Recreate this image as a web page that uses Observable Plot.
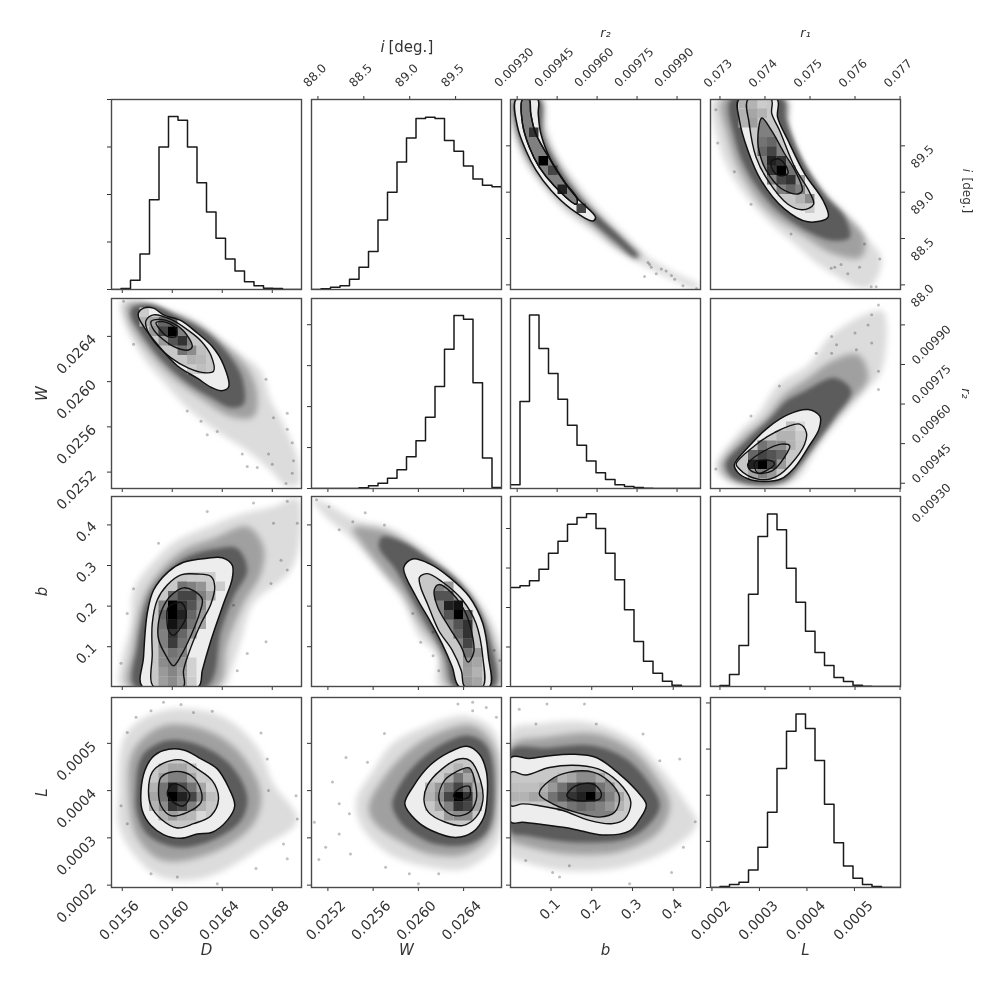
<!DOCTYPE html>
<html><head><meta charset="utf-8">
<script src="https://cdn.jsdelivr.net/npm/d3@7"></script>
<script src="https://cdn.jsdelivr.net/npm/@observablehq/plot@0.6"></script>
<style>
html,body{margin:0;padding:0;background:#fff}
#c{position:relative;width:1004px;height:991px;overflow:hidden;filter:blur(.4px)}
</style></head><body>
<svg width="0" height="0" style="position:absolute"><defs>
<filter id="b3" x="-40%" y="-40%" width="180%" height="180%"><feGaussianBlur stdDeviation="3"/></filter>
<filter id="b2" x="-40%" y="-40%" width="180%" height="180%"><feGaussianBlur stdDeviation="2.2"/></filter>
</defs></svg>
<div id="c"></div>
<script>
// Units: D, W in 1e-4; L in 1e-4; r2 in 1e-5; r1 in 1e-3; i in degrees; b raw.
const D_ticks=[156,160,164,168], D_labels=["0.0156","0.0160","0.0164","0.0168"];
const W_ticks=[252,256,260,264], W_labels=["0.0252","0.0256","0.0260","0.0264"];
const b_ticks=[.1,.2,.3,.4], b_labels=["0.1","0.2","0.3","0.4"];
const L_ticks=[2,3,4,5], L_labels=["0.0002","0.0003","0.0004","0.0005"];
const r2_ticks=[930,945,960,975,990], r2_labels=["0.00930","0.00945","0.00960","0.00975","0.00990"];
const r1_ticks=[73,74,75,76,77], r1_labels=["0.073","0.074","0.075","0.076","0.077"];
const i_ticks=[88,88.5,89,89.5], i_labels=["88.0","88.5","89.0","89.5"];
const hist_ticks=[0,1000,2000,3000,4000];

// Histogram counts, 20 bins each
const D_hist=[0,21,197,746,1887,3000,3640,3562,3000,2246,1633,1077,641,387,162,77,28,21,0,0];
const i_hist=[0,14,49,77,217,469,798,1456,2037,2674,3178,3584,3612,3584,3122,2898,2590,2317,2184,2156];
const W_hist=[0,0,0,0,0,16,65,131,253,458,776,1168,1740,2492,3399,4224,4134,2582,743,25];
const r2_hist=[90,2116,4216,3407,2794,2173,1536,1054,670,384,221,90,49,25,8,0,0,0,0,0];
const b_hist=[2507,2549,2675,2971,3376,3680,4110,4279,4372,4001,3376,2701,1941,1139,641,338,135,34,0,0];
const r1_hist=[0,25,304,1038,2330,3790,4355,3958,2988,2127,1392,861,532,228,127,34,8,0,0,0];
const L_hist=[0,22,65,116,377,870,1631,2581,3386,3763,3444,2755,1805,972,464,203,65,22,0,0];

const zip=(a,b)=>a.map((v,i)=>[v,b[i]]);

// D vs W
const DW_h1=zip([155.9,156.9,158.8,161.2,163.3,165.5,167.1,167.9,168.9,170,170.1,169.1,167.9,166,163.6,161.2,159.3,157.7,156.1],[267.1,267.1,266.5,265.7,264.2,262.4,260.9,258.3,256.2,253.3,250.9,250.8,252.1,253.9,255.6,257.7,260,262.1,265.4]);
const DW_h2=zip([156.4,157.7,159.6,162,164.1,166,166.8,166.5,164.7,162.3,159.9,158,156.5],[266.8,267,266.2,265.1,263.3,261.2,258.9,256.9,256.9,258.5,260.5,262.8,265.4]);
const DW_h3=zip([156.8,158.3,160.4,162.8,164.5,165.6,165.7,164.7,163.1,161.2,159.1,157.3,156.7],[266.5,266.8,265.8,264.3,262.4,260.3,258,257.7,258.6,259.9,262,264.6,265.8]);
const DW_c1=zip([157.3,157.7,158.5,159.3,160.7,162,163.2,164.1,164.5,163.9,163.1,162,160.4,158.8,157.7,157.3],[266.1,266.5,266.5,265.9,265.4,264.3,263.1,261.5,259.5,259.2,259.5,260.3,261.4,263.3,264.9,265.7]);
const DW_c2=zip([157.9,158.5,159.9,161.2,162.3,163.1,163.3,162.5,161.3,159.9,158.5,157.9],[265.4,265.9,265.5,264.6,263.6,262.3,260.9,260.8,261.2,262.1,263.6,264.9]);
const DW_c3=zip([158.3,158.9,160,160.9,161.6,161.3,160.3,159.3,158.5],[265.3,265.5,265.2,264.5,263.1,262.8,263,263.7,264.6]);
const DW_c4=zip([158.7,159.3,160.3,160.3,159.6,159.1],[265.2,265.3,264.7,264,264,264.5]);
const DW_cells=[[8,14,.45],[7,14,.55],[9,14,.25],[8,13,.3],[9,13,.28],[8,12,.2],[9,12,.25],[4,17,.35],[3,17,.3],[4,16,.4],[5,15,.4],[3,18,.2],[6,16,1],[6,15,.67],[7,15,.8],[5,16,.73],[5,17,.6],[6,17,.6]];
const DW_pts=zip([156.1,156.9,161.2,162.3,162.8,163.6,167.5,169.2,168.1,166,166.8,168,169.6,169.1,169.7,169.2,167.7,165.6,169.6],[267.1,263.3,257.4,256.5,255.3,255.6,260.2,257.2,256.8,252.5,252.4,252.7,251.9,251,253,255.8,253.6,253.6,254.6]);

// D vs b
const Db_h1=zip([155.9,155.9,156.7,156.9,158.5,160.4,162.8,165.2,168.1,170,170.3,169.5,166.5,165.5,164.7,164.1],[.002,.059,.156,.239,.31,.362,.395,.424,.445,.465,.396,.289,.206,.116,.041,.002]);
const Db_h2=zip([156.5,156.8,157.7,159.1,160.9,163.3,166,167.3,167.1,165.7,164.4,163.6],[.002,.09,.222,.289,.338,.367,.396,.346,.28,.206,.107,.002]);
const Db_h3=zip([157,157.2,158.1,159.3,161.2,163.6,165.2,166,164.9,163.9,162.8],[.002,.099,.222,.276,.321,.342,.342,.289,.223,.14,.002]);
const Db_c1=zip([157.6,157.7,158,158.5,159.7,160.9,162.8,164,164.8,164.8,164.1,163.1,162.4,162.1],[.002,.074,.182,.239,.285,.308,.318,.319,.301,.268,.206,.116,.041,.002]);
const Db_c2=zip([158.5,158.4,158.4,158.8,159.6,160.7,162,163.1,163.4,163.1,162.3,161.5,160.9,160.9],[.002,.083,.157,.215,.252,.277,.279,.273,.248,.206,.157,.099,.041,.002]);
const Db_c3=zip([158.9,158.9,159.2,159.9,160.9,161.7,162.4,162.2,161.6,160.7,160.1,159.5],[.119,.16,.193,.226,.245,.238,.217,.184,.135,.078,.053,.078]);
const Db_c4=zip([159.6,159.7,160.7,161,161.1,160.7,160.1,159.7],[.155,.198,.209,.198,.173,.148,.128,.14]);
const Db_cells=[[6,5,.75],[7,5,.6],[7,4,.55],[6,3,.55],[7,3,.5],[6,2,.5],[5,2,.45],[7,2,.42],[6,1,.48],[5,1,.4],[7,1,.38],[6,0,.45],[5,0,.38],[7,0,.35],[8,7,.6],[8,6,.55],[8,5,.45],[9,9,.5],[9,8,.45],[10,9,.35],[9,7,.4],[9,6,.35],[5,6,.55],[5,7,.6],[5,8,.5],[6,9,.6],[5,4,.5],[5,3,.45],[7,10,.55],[8,10,.5],[9,10,.42],[9,11,.2],[10,11,.2],[11,10,.2],[8,11,.2],[8,0,.2],[8,1,.18],[8,2,.18],[6,8,1],[6,7,1],[6,6,.93],[7,7,.87],[7,8,.8],[7,6,.8],[6,5,.8],[6,4,.77],[7,9,.73],[8,9,.73],[8,8,.67]];
const Db_pts=zip([155.9,156.4,158.9,162.8,166.5,169.2,168.1,170,168.7,169.2,167.5,166,165.2,164.9,167.9,156.9],[.059,.182,.355,.433,.454,.458,.404,.404,.313,.289,.112,.083,.041,.202,.256,.243]);

// D vs L
const DL_h1=zip([155.7,156.3,159.3,163.9,166.8,168.1,170,167.1,162.8,159.1,156.9,155.7],[3.86,5.2,5.69,5.58,4.92,4.14,3.37,2.8,2.17,2.17,2.66,3.3]);
const DL_h2=zip([156.5,156.9,159.3,162.8,165.5,167.1,166.5,163.6,159.3,157.2],[4,4.85,5.37,5.27,4.77,3.93,3.3,2.73,2.52,3.01]);
const DL_h3=zip([157.1,157.6,159.6,162.3,164.7,166,165.5,163.1,160.4,158.1,157.2],[4,4.74,5.06,4.95,4.53,3.86,3.37,2.94,2.8,3.05,3.51]);
const DL_c1=zip([157.5,157.8,158.4,159.3,160.9,162.3,163.6,164.5,165,164.4,163.2,162,160.7,159.3,158.3,157.6],[4,4.42,4.7,4.85,4.86,4.67,4.46,4.07,3.68,3.37,3.12,3.08,2.99,3.07,3.26,3.58]);
const DL_c2=zip([158.1,158.4,159.3,160.7,162,163.2,163.7,163.1,161.7,160.4,159.1,158.3],[4,4.39,4.58,4.65,4.46,4.21,3.82,3.47,3.3,3.21,3.4,3.68]);
const DL_c3=zip([158.9,159.1,160.1,161.5,162.3,162.3,161.2,159.9,159.1],[4,4.28,4.4,4.32,4,3.75,3.54,3.47,3.68]);
const DL_c4=zip([159.6,160,160.9,161.4,160.9,160.1],[3.93,4.14,4.07,3.89,3.68,3.75]);
const DL_cells=[[5,9,.55],[5,10,.55],[6,11,.5],[7,11,.5],[7,10,.7],[8,10,.55],[8,8,.5],[5,8,.45],[9,9,.45],[9,10,.35],[8,11,.35],[4,9,.35],[4,10,.3],[5,11,.38],[5,12,.28],[6,12,.35],[7,12,.35],[8,12,.25],[9,11,.2],[4,8,.3],[5,7,.3],[6,7,.38],[7,7,.3],[8,7,.28],[9,8,.3],[10,9,.25],[10,10,.18],[9,7,.15],[6,9,1],[7,9,.87],[6,10,.87],[6,8,.8],[7,8,.73],[8,9,.73]];
const DL_pts=zip([159.3,160.7,158.3,157.1,156.4,161.7,163.2,167.1,167.6,167.7,169.9,168.9,170,169.2,166.7,163.6,160.4,158.3,156.4,155.9],[5.87,5.82,5.69,5.55,5.23,5.65,5.68,5.22,4.67,4,3.89,2.87,3.4,2.56,2.35,2.03,2.17,2.24,3.3,3.68]);

// W vs b
const Wb_h1=zip([250.6,251.8,254.5,257.1,259.8,262.4,265.1,266.9,267.4,261.8,261.7,261.8,260.1,258.6,256.8,254.2,251.8,250.8],[.466,.454,.412,.396,.355,.297,.223,.132,.002,.002,.041,.074,.124,.215,.28,.363,.421,.454]);
const Wb_h2=zip([254.2,257.1,259.5,261.8,264.5,266.4,267,262.7,261.8,260.1,258.6,257.1,255],[.392,.384,.346,.293,.223,.132,.002,.002,.091,.157,.231,.28,.355]);
const Wb_h3=zip([256.8,258.9,260.9,263,265.1,266.3,266.7,263.2,262.4,260.7,259.2,258,256.5],[.371,.355,.318,.276,.206,.116,.002,.002,.074,.157,.231,.289,.346]);
const Wb_c1=zip([258.7,259.5,261,262.7,264.5,265.7,266.2,266.3,263.6,263,262.1,261,259.8],[.295,.316,.304,.272,.223,.157,.074,.002,.002,.05,.107,.165,.223]);
const Wb_c2=zip([260.1,260.8,262.1,263.9,265.1,265.7,265.7,264.1,263.8,263,261.8,260.8,260.2],[.271,.28,.26,.215,.157,.074,.002,.002,.041,.091,.14,.206,.247]);
const Wb_c3=zip([261.4,261.8,263,264.2,264.8,264.9,264.4,263.8,262.7,261.7],[.239,.253,.231,.182,.124,.087,.062,.099,.149,.198]);
const Wb_c4=[];
const Wb_cells=[[16,0,.4],[17,0,.35],[16,1,.38],[17,1,.3],[16,2,.4],[17,2,.35],[16,3,.55],[15,5,.6],[17,3,.4],[16,7,.65],[14,10,.4],[15,7,1],[15,8,.93],[14,8,.87],[15,6,.67],[16,6,.8],[16,5,.8],[16,4,.73],[14,9,.67],[13,9,.67],[14,7,.67]];
const Wb_pts=zip([251,252.1,255.3,253,257,259.5,260.2,261.3,261.3,261.8,267.2,266.7,254.2],[.462,.445,.43,.388,.4,.182,.111,.078,.136,.041,.066,.091,.408]);

// W vs L
const WL_h1=zip([254.5,256,257.7,260.4,264.2,266.7,267.3,266.9,264.2,261,257.4,255],[3.79,4.42,4.99,5.34,5.58,5.25,4,2.87,2.35,2.38,2.66,3.23]);
const WL_h2=zip([255.6,257.4,259.5,261.8,264.8,266.7,267,266.4,264.2,261,258.3,256.2],[3.65,4.42,4.92,5.23,5.37,4.92,3.86,3.08,2.66,2.66,2.94,3.3]);
const WL_h3=zip([257.7,258.6,260.4,262.4,264.5,266.1,266.7,266.1,264.5,261.5,259.2,258.2],[3.72,4.21,4.7,5.02,5.16,4.92,3.86,3.15,2.87,2.87,3.15,3.4]);
const WL_c1=zip([258.8,259.5,261,262.7,264.3,265.4,266,266.1,265.8,264.8,263.3,261.2,259.8],[3.72,4.07,4.53,4.81,4.94,4.77,4.42,3.93,3.44,3.12,3.01,3.15,3.37]);
const WL_c2=zip([260.5,260.8,262.1,263.6,264.6,265.5,265.7,265.1,263.9,262.4,260.9],[3.79,4.11,4.46,4.67,4.63,4.21,3.79,3.44,3.26,3.33,3.54]);
const WL_c3=zip([261.8,262.3,263.3,264.5,265.1,265.1,264.5,263.2,262.1],[3.86,4.21,4.39,4.48,4.07,3.79,3.54,3.47,3.65]);
const WL_c4=zip([263.1,263.6,264.5,264.5,263.6],[3.89,4.04,4.09,3.87,3.82]);
const WL_cells=[[14,8,.5],[14,10,.55],[13,9,.45],[13,10,.4],[13,8,.35],[15,11,.55],[14,11,.35],[16,10,.55],[15,7,.45],[14,7,.4],[16,7,.45],[12,9,.3],[12,10,.28],[13,11,.2],[16,11,.35],[15,12,.3],[12,8,.22],[17,9,.35],[17,10,.3],[17,8,.35],[15,9,1],[15,8,.8],[16,9,.8],[15,10,.73],[14,9,.73],[16,8,.73]];
const WL_pts=zip([253.6,257,252.4,250.8,251.2,253,251.8,253.9,253,257.1,259.2,261.8,260,263.5,264.8,264.8,266,266.9,255.5,254],[4.7,5.21,4.18,3.33,2.54,3.08,2.8,3.51,3.72,2.38,2.24,2.24,2.03,5.83,5.87,5.69,5.76,5.55,4.6,2.66]);

// b vs L
const bL_h1=zip([.002,.071,.194,.301,.367,.433,.458,.4,.277,.129,.022,.002],[5.27,5.41,5.44,5.06,4.49,3.72,3.3,2.8,2.38,2.31,2.52,2.59]);
const bL_h2=zip([.002,.088,.211,.301,.359,.392,.367,.277,.137,.02,.002],[4.95,5.13,5.2,4.85,4.28,3.72,3.15,2.73,2.66,2.87,2.94]);
const bL_h3=zip([.002,.088,.203,.285,.342,.367,.338,.285,.153,.038,.002],[4.85,4.9,4.95,4.67,4.14,3.68,3.26,2.98,2.91,3.05,3.12]);
const bL_c1=zip([.002,.047,.096,.153,.211,.268,.31,.334,.318,.293,.227,.153,.088,.03,.002],[4.7,4.68,4.74,4.77,4.7,4.35,4,3.7,3.4,3.15,3.06,3.19,3.27,3.33,3.33]);
const bL_c2=zip([.002,.038,.096,.17,.227,.277,.296,.281,.248,.194,.129,.071,.03,.002],[4.39,4.33,4.49,4.53,4.42,4.07,3.75,3.4,3.3,3.37,3.58,3.68,3.72,3.68]);
const bL_c3=zip([.071,.096,.145,.203,.244,.268,.256,.219,.162,.104],[3.93,4.21,4.39,4.39,4.18,3.86,3.54,3.44,3.54,3.72]);
const bL_c4=zip([.139,.158,.203,.223,.219,.194,.161],[3.89,4.09,4.14,3.96,3.82,3.79,3.79]);
const bL_cells=[[4,9,.55],[3,9,.35],[3,10,.3],[4,10,.4],[5,10,.55],[6,10,.7],[9,10,.55],[10,9,.5],[10,10,.45],[5,8,.45],[6,8,.55],[7,8,.6],[8,8,.55],[9,8,.5],[10,8,.42],[11,9,.35],[11,8,.3],[7,11,.45],[8,11,.45],[9,11,.35],[6,11,.35],[5,11,.3],[2,9,.35],[1,9,.3],[0,9,.3],[0,10,.25],[1,10,.25],[2,10,.25],[0,11,.22],[8,9,1],[7,9,.87],[6,9,.8],[8,10,.8],[7,10,.8],[9,9,.67],[5,9,.67]];
const bL_pts=zip([.09,.182,.022,.063,.326,.416,.367,.454,.396,.293,.104,.145,.121,.038,.425,.211],[5.83,5.83,5.72,5.41,5.2,4.67,4.63,3.34,2.27,2.03,2.27,2.41,2.17,2.52,2.8,5.41]);

// r2 vs i
const r2i_h1=zip([927.6,928.2,932.6,938.9,947.7,957.7,966.5,976.6,986.6,997.9,998.5,987.9,977.8,972.8,965.3,959,951.5,945.2,940.8,939.5],[90,89.71,89.34,89.09,88.8,88.59,88.4,88.22,88.08,87.95,87.99,88.15,88.33,88.48,88.69,88.87,89.13,89.38,89.71,90]);
const r2i_h2=zip([928.9,929.5,935.1,945.2,959,967.8,975.3,976.6,970.3,961.5,954,946.4,940.2,938.9],[90,89.66,89.3,88.94,88.62,88.4,88.28,88.31,88.48,88.71,88.96,89.27,89.63,90]);
const r2i_h3=zip([929.5,930.1,935.1,945.2,959,967.2,974,975.3,969,960.9,953.4,945.8,939.5,938.3],[90,89.68,89.34,88.98,88.66,88.46,88.3,88.31,88.51,88.73,88.95,89.25,89.63,90]);
const r2i_c1=zip([929.6,930.1,933.3,937,942.7,950.2,958.4,959.4,952.7,947.7,942.7,938.9,937.9,937.7],[90,89.71,89.45,89.24,89.02,88.82,88.69,88.73,88.93,89.11,89.34,89.63,89.85,90]);
const r2i_c2=zip([932,932,934.5,938.3,943.9,952.1,952.5,948.3,943.3,937,935.1,934.5],[90,89.74,89.49,89.27,89.07,88.87,88.93,89.09,89.31,89.63,89.85,90]);
const r2i_c3=r2i_c2, r2i_c4=[];
const r2i_cells=[[3,13,1],[2,16,.8],[4,12,.73],[5,10,.87],[7,8,.73]];
const r2i_pts=zip([979.1,980.3,984.1,982.2,989.1,992.2,997.3,977.8,985.9,987.9,979.7],[88.24,88.19,88.17,88.12,88.06,87.99,87.96,88.09,88.15,88.1,88.22]);

// r1 vs i
const r1i_h1=zip([72.87,72.95,73.24,73.91,74.66,75.4,76.29,76.59,76,75.4,74.8,74.51,74.43],[90,89.57,89.2,88.77,88.44,88.15,87.97,88.28,88.62,88.91,89.31,89.71,90]);
const r1i_h2=zip([73.06,73.17,73.43,74.06,74.8,75.55,76.14,76.21,75.77,75.32,74.8,74.51,74.47],[90,89.6,89.24,88.8,88.55,88.33,88.3,88.51,88.77,88.98,89.34,89.74,90]);
const r1i_h3=zip([73.24,73.32,73.58,74.14,74.8,75.47,75.88,75.77,75.36,74.84,74.47,74.4],[90,89.6,89.25,88.87,88.62,88.48,88.51,88.73,88.95,89.34,89.78,90]);
const r1i_c1=zip([73.42,73.43,73.62,73.91,74.43,74.95,75.4,75.29,74.88,74.51,74.28,74.27],[90,89.78,89.45,89.13,88.82,88.68,88.73,88.91,89.2,89.56,89.81,90]);
const r1i_c2=zip([73.62,73.65,73.8,74.06,74.51,74.84,75.08,74.99,74.66,74.32,74.15,74.14],[90,89.74,89.38,89.13,88.87,88.81,88.87,89,89.27,89.67,89.85,90]);
const r1i_c3=zip([73.84,73.93,74.14,74.43,74.66,74.83,74.73,74.36,74.02,73.88],[89.56,89.8,89.67,89.42,89.24,89.02,88.98,89.04,89.24,89.42]);
const r1i_c4=zip([74.14,74.28,74.43,74.51,74.32,74.17],[89.33,89.36,89.31,89.2,89.18,89.24]);
const r1i_cells=[[3,19,.3],[4,19,.3],[5,19,.2],[3,18,.3],[4,18,.35],[5,18,.3],[3,17,.3],[4,17,.38],[5,16,.5],[5,15,.55],[6,15,.6],[5,14,.6],[8,12,.55],[8,10,.6],[9,10,.5],[9,11,.4],[7,10,.5],[10,9,.45],[6,11,.5],[9,9,.3],[10,8,.2],[7,12,1],[6,12,.8],[6,13,.87],[7,13,.8],[6,14,.73],[8,11,.8],[7,11,.73]];
const r1i_pts=zip([72.91,72.95,73.32,73.69,74.58,75.47,76.36,76.55,76.21,75.55,75.84,76.1,76.47,75.69],[89.89,89.53,89.22,88.87,88.55,88.18,87.98,88.28,88.44,88.19,88.12,88.19,87.98,88.22]);

// r1 vs r2
const r1r2_h1=zip([72.91,73.39,73.84,74.29,74.96,75.48,76.37,76.63,76.59,76.22,75.7,75.18,74.66,73.91,73.17],[936,948.6,956.1,967.4,974.9,986.2,995,995,972.4,964.9,954.9,943.6,931,928.5,931]);
const r1r2_h2=zip([73.02,73.47,73.99,74.43,74.96,75.48,76.07,76.29,75.84,75.4,74.96,74.51,73.84,73.21],[936.7,946.7,954.2,963.6,969.9,976.2,978.7,969.9,959.9,951.1,941.1,931,929.1,931.6]);
const r1r2_h3=zip([73.13,73.55,74.1,74.47,74.88,75.55,75.92,75.55,75.18,74.73,74.43,73.84,73.28],[937.3,945.5,954.2,961.1,964.9,969.9,964.9,954.9,946.1,936,931,929.5,932.3]);
const r1r2_c1=zip([73.32,73.62,74.06,74.51,74.96,75.22,75.2,74.96,74.66,74.36,73.99,73.62,73.39],[937,943.5,951,956,957.9,955.4,950.5,943.6,936,931.7,930.7,931.7,934.2]);
const r1r2_c2=zip([73.36,73.77,74.21,74.77,74.92,74.88,74.58,74.29,73.99,73.62,73.43],[937.3,944.2,949.2,952.4,949.2,944.8,937.3,932.9,931.3,932.9,935.4]);
const r1r2_c3=zip([73.62,73.99,74.36,74.55,74.43,74.17,73.84,73.65],[937.3,942.3,944.8,944.2,939.8,934.8,933.8,935.4]);
const r1r2_c4=zip([73.77,74.14,74.21,74.03,73.84],[937.9,938.5,937.3,934.8,933.8]);
const r1r2_cells=[[6,4,.45],[7,4,.45],[7,3,.6],[4,3,.6],[5,4,.55],[8,5,.3],[7,5,.3],[8,6,.25],[9,6,.15],[9,5,.2],[8,4,.3],[6,1,.4],[5,1,.5],[4,1,.35],[7,2,.4],[5,2,1],[4,2,.87],[6,2,.73],[5,3,.73],[6,3,.67]];
const r1r2_pts=zip([76.37,76.29,76.52,75.48,75.59,76,76.37,76.03,75.48,76.52,76.52,74.32,73.69,72.91,75.14],[993.8,990,997.5,985.6,982.5,986.9,983.1,980.6,979.3,972.4,965.5,966.8,955.5,935.4,979.3]);

// ---------- Layout and drawing ----------
const M=80, S=190;
const colX=[111,311.3,510,709.6], rowY=[99,297.5,496.3,696.7];
const dom={D:[155.14,170.34],W:[250.55,267.35],bx:[.0005,.467],by:[.002,.47],Lx:[1.97,5.97],Ly:[1.95,5.97],r2x:[927.5,998.8],r2y:[928,1000],r1:[72.79,77.01],ix:[87.93,90],iy:[87.95,90]};
const bins=(d,k)=>d[0]+(d[1]-d[0])*k/20;
const INK="#333", FR="#4a4a4a";

function xAxis(anchor,ticks){return Plot.axisX(ticks,{anchor,tickSize:4,fill:"none",stroke:INK,label:null});}
function yAxis(anchor,ticks){return Plot.axisY(ticks,{anchor,tickSize:4,fill:"none",stroke:INK,label:null});}
function xLabels(frameAnchor,ticks,labels,dx,dy,size){
  return Plot.text(ticks,{x:d=>d,frameAnchor,dx,dy,rotate:-45,text:(d,i)=>labels[i],textAnchor:"middle",lineAnchor:"middle",fontSize:size,fill:INK});
}
function yLabels(frameAnchor,ticks,labels,dx,dy,size){
  return Plot.text(ticks,{y:d=>d,frameAnchor,dx,dy,rotate:-45,text:(d,i)=>labels[i],textAnchor:"middle",lineAnchor:"middle",fontSize:size,fill:INK});
}
function title(str,frameAnchor,dx,dy,opts={}){
  return Plot.text([str],{text:d=>d,frameAnchor,dx,dy,textAnchor:"middle",lineAnchor:"middle",fontSize:15,fill:INK,...opts});
}
function draw(col,row,xd,yd,marks){
  const svg=Plot.plot({width:S+2*M,height:S+2*M,margin:M,
    x:{domain:xd,axis:null},y:{domain:yd,axis:null},
    color:{type:"linear",domain:[0,1],range:["#ffffff","#000000"]},
    style:{position:"absolute",left:(colX[col]-M)+"px",top:(rowY[row]-M)+"px",background:"transparent",fontFamily:"'DejaVu Sans'"},
    marks:[...marks,Plot.frame({stroke:FR,strokeWidth:1.4})]});
  document.getElementById("c").appendChild(svg);
}
function histMarks(vals,xd){
  const pts=vals.map((v,k)=>[bins(xd,k),v]);
  pts.push([bins(xd,20),vals[19]]);
  return [Plot.line(pts,{x:d=>d[0],y:d=>d[1],curve:"step-after",stroke:"#1a1a1a",strokeWidth:1.5,clip:true})];
}
// A soft edge for a mark: a blur on the mark's paths, inside the frame clip
const soft=id=>function(index,scales,values,dims,ctx,next){
  const g=next(index,scales,values,dims,ctx);
  g.querySelectorAll("path").forEach(p=>p.setAttribute("filter",`url(#${id})`));
  return g;
};
function densityMarks(xd,yd,s){
  const poly=(p,o)=>p.length?Plot.line(p,{x:d=>d[0],y:d=>d[1],curve:"catmull-rom-closed",clip:true,...o}):null;
  const [h1,h2,h3,c1,c2,c3,c4,cells,pts]=s;
  return [
    poly(h1,{fill:"#dcdcdc",stroke:"none",render:soft("b3")}),
    poly(h2,{fill:"#a0a0a0",stroke:"none",render:soft("b3")}),
    poly(h3,{fill:"#5c5c5c",stroke:"none",render:soft("b2")}),
    Plot.dot(pts,{x:d=>d[0],y:d=>d[1],r:1.5,fill:"#000",fillOpacity:.25,stroke:null,clip:true}),
    poly(c1,{fill:"#ededed",stroke:"none"}),
    poly(c2,{fill:"#c8c8c8",stroke:"none"}),
    poly(c3,{fill:"#808080",stroke:"none"}),
    poly(c4,{fill:"#3c3c3c",stroke:"none"}),
    Plot.rect(cells,{x1:d=>bins(xd,d[0]),x2:d=>bins(xd,d[0]+1),y1:d=>bins(yd,d[1]),y2:d=>bins(yd,d[1]+1),fill:d=>d[2],clip:true}),
    poly(c1,{stroke:"#111",strokeWidth:1.5,fill:"none"}),
    poly(c2,{stroke:"#111",strokeWidth:1.4,fill:"none"}),
    poly(c3,{stroke:"#111",strokeWidth:1.4,fill:"none"}),
    poly(c4,{stroke:"#111",strokeWidth:1.4,fill:"none"})
  ].filter(Boolean);
}

// Row 1
draw(0,0,dom.D,[0,4000],[...histMarks(D_hist,dom.D),yAxis("left",hist_ticks),xAxis("bottom",D_ticks)]);
draw(1,0,dom.ix,[0,3983],[...histMarks(i_hist,dom.ix),xAxis("top",i_ticks),xLabels("top",i_ticks,i_labels,-3,-24,12),
  title("i","top",-24,-52,{fontStyle:"italic"}),title("[deg.]","top",-18,-52,{textAnchor:"start"})]);
draw(2,0,dom.r2x,dom.iy,[...densityMarks(dom.r2x,dom.iy,[r2i_h1,r2i_h2,r2i_h3,r2i_c1,r2i_c2,r2i_c3,r2i_c4,r2i_cells,r2i_pts]),
  xAxis("top",r2_ticks),yAxis("left",i_ticks),xLabels("top",r2_ticks,r2_labels,-3,-32,12),title("r₂","top",0,-67,{fontStyle:"italic",fontSize:13})]);
draw(3,0,dom.r1,dom.iy,[...densityMarks(dom.r1,dom.iy,[r1i_h1,r1i_h2,r1i_h3,r1i_c1,r1i_c2,r1i_c3,r1i_c4,r1i_cells,r1i_pts]),
  xAxis("top",r1_ticks),yAxis("right",i_ticks),xLabels("top",r1_ticks,r1_labels,-2,-26,12),
  yLabels("right",i_ticks,i_labels,22,11,12),title("r₁","top",0,-67,{fontStyle:"italic",fontSize:13}),
  title("i","right",66,-24,{fontStyle:"italic",fontSize:12,rotate:90}),title("[deg.]","right",66,-17,{fontSize:12,rotate:90,textAnchor:"start"})]);
// Row 2
draw(0,1,dom.D,dom.W,[...densityMarks(dom.D,dom.W,[DW_h1,DW_h2,DW_h3,DW_c1,DW_c2,DW_c3,DW_c4,DW_cells,DW_pts]),
  xAxis("bottom",D_ticks),yAxis("left",W_ticks),yLabels("left",W_ticks,W_labels,-35,18,14),title("W","left",-69,0,{fontStyle:"italic",rotate:-90})]);
draw(1,1,dom.W,[0,4640],[...histMarks(W_hist,dom.W),yAxis("left",hist_ticks),xAxis("bottom",W_ticks)]);
draw(2,1,dom.r2x,[0,4620],[...histMarks(r2_hist,dom.r2x),xAxis("bottom",r2_ticks)]);
draw(3,1,dom.r1,dom.r2y,[...densityMarks(dom.r1,dom.r2y,[r1r2_h1,r1r2_h2,r1r2_h3,r1r2_c1,r1r2_c2,r1r2_c3,r1r2_c4,r1r2_cells,r1r2_pts]),
  xAxis("bottom",r1_ticks),yAxis("right",r2_ticks),yLabels("right",r2_ticks,r2_labels,31,20,12),
  title("r₂","right",66,0,{fontStyle:"italic",fontSize:13,rotate:90})]);
// Row 3
draw(0,2,dom.D,dom.by,[...densityMarks(dom.D,dom.by,[Db_h1,Db_h2,Db_h3,Db_c1,Db_c2,Db_c3,Db_c4,Db_cells,Db_pts]),
  xAxis("bottom",D_ticks),yAxis("left",b_ticks),yLabels("left",b_ticks,b_labels,-25,7,14),title("b","left",-69,0,{fontStyle:"italic",rotate:-90})]);
draw(1,2,dom.W,dom.by,[...densityMarks(dom.W,dom.by,[Wb_h1,Wb_h2,Wb_h3,Wb_c1,Wb_c2,Wb_c3,Wb_c4,Wb_cells,Wb_pts]),
  xAxis("bottom",W_ticks),yAxis("left",b_ticks)]);
draw(2,2,dom.bx,[0,4811],[...histMarks(b_hist,dom.bx),yAxis("left",hist_ticks),xAxis("bottom",b_ticks)]);
draw(3,2,dom.r1,[0,4797],[...histMarks(r1_hist,dom.r1),xAxis("bottom",r1_ticks)]);
// Row 4
draw(0,3,dom.D,dom.Ly,[...densityMarks(dom.D,dom.Ly,[DL_h1,DL_h2,DL_h3,DL_c1,DL_c2,DL_c3,DL_c4,DL_cells,DL_pts]),
  xAxis("bottom",D_ticks),yAxis("left",L_ticks),yLabels("left",L_ticks,L_labels,-35,18,14),xLabels("bottom",D_ticks,D_labels,-3,33,14),
  title("L","left",-69,0,{fontStyle:"italic",rotate:-90}),title("D","bottom",0,63,{fontStyle:"italic"})]);
draw(1,3,dom.W,dom.Ly,[...densityMarks(dom.W,dom.Ly,[WL_h1,WL_h2,WL_h3,WL_c1,WL_c2,WL_c3,WL_c4,WL_cells,WL_pts]),
  xAxis("bottom",W_ticks),yAxis("left",L_ticks),xLabels("bottom",W_ticks,W_labels,-2,33,14),title("W","bottom",0,63,{fontStyle:"italic"})]);
draw(2,3,dom.bx,dom.Ly,[...densityMarks(dom.bx,dom.Ly,[bL_h1,bL_h2,bL_h3,bL_c1,bL_c2,bL_c3,bL_c4,bL_cells,bL_pts]),
  xAxis("bottom",b_ticks),yAxis("left",L_ticks),xLabels("bottom",b_ticks,b_labels,-1,22,14),title("b","bottom",0,63,{fontStyle:"italic"})]);
draw(3,3,dom.Lx,[0,4118],[...histMarks(L_hist,dom.Lx),yAxis("left",hist_ticks),xLabels("bottom",L_ticks,L_labels,-1,33,14),xAxis("bottom",L_ticks),title("L","bottom",0,63,{fontStyle:"italic"})]);
</script></body></html>
